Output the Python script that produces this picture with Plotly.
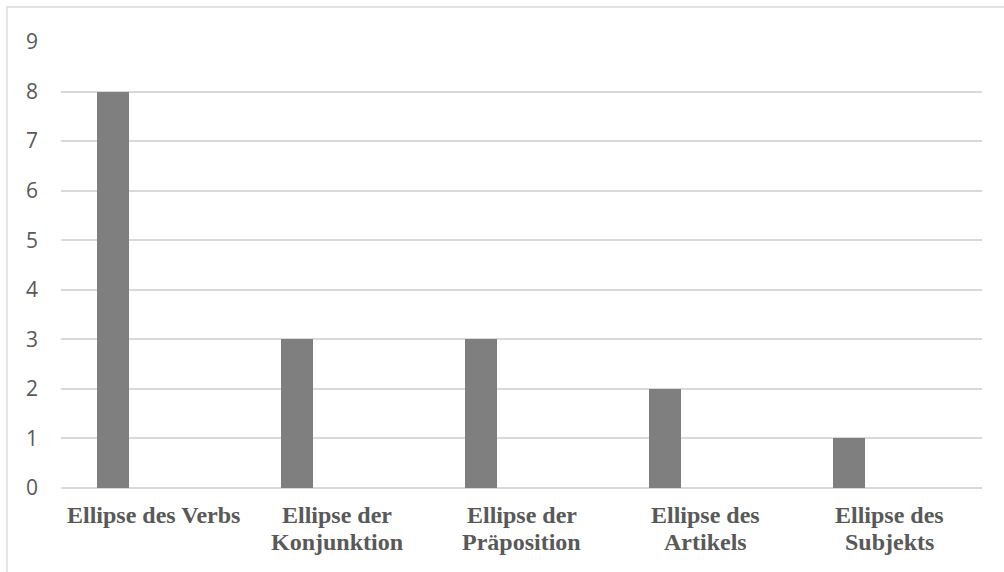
import plotly.graph_objects as go

# Anzahl der Ellipsen je Typ
categories = [
    "Ellipse des Verbs",
    "Ellipse der<br>Konjunktion",
    "Ellipse der<br>Präposition",
    "Ellipse des<br>Artikels",
    "Ellipse des<br>Subjekts",
]
counts = [8, 3, 3, 2, 1]
y_ticks = list(range(0, 10))

W, H = 1004, 572
ML, MR, MT, MB = 61, 22, 42, 84
pw, ph = W - ML - MR, H - MT - MB


def paper_y(px):
    """Convert a pixel row of the page to a paper y coordinate."""
    return (H - MB - px) / ph


fig = go.Figure(
    go.Bar(
        x=categories,
        y=counts,
        width=0.174,
        offset=-0.307,
        marker=dict(color="#7f7f7f", line=dict(width=0)),
        hoverinfo="y",
    )
)

# category labels, one annotation per line for tighter line spacing
label_rows = [515, 542]
for cat in categories:
    for i, line in enumerate(cat.split("<br>")):
        fig.add_annotation(
            x=cat, xref="x",
            y=paper_y(label_rows[i]), yref="paper",
            text="<b>" + line + "</b>",
            showarrow=False,
            xanchor="center", yanchor="middle",
            font=dict(family="Liberation Serif", size=24, color="#595959"),
        )

# outer chart frame
fig.add_shape(
    type="rect",
    xref="paper", yref="paper",
    x0=(7 - ML) / pw, x1=(W + 10 - ML) / pw,
    y0=paper_y(590), y1=paper_y(7),
    line=dict(color="#d9d9d9", width=1.3),
    fillcolor="rgba(0,0,0,0)",
    layer="below",
)

fig.update_layout(
    width=W,
    height=H,
    margin=dict(l=ML, r=MR, t=MT, b=MB, pad=0),
    paper_bgcolor="white",
    plot_bgcolor="white",
    showlegend=False,
    bargap=0,
    xaxis=dict(
        type="category",
        range=[-0.5, 4.5],
        showticklabels=False,
        showgrid=False,
        showline=False,
        zeroline=False,
        ticks="",
    ),
    yaxis=dict(
        range=[0, 9],
        tickvals=y_ticks,
        showgrid=True,
        gridcolor="#d9d9d9",
        gridwidth=1.5,
        zeroline=True,
        zerolinecolor="#d9d9d9",
        zerolinewidth=1.5,
        showline=False,
        ticks="",
        tickfont=dict(family="Open Sans", size=21, color="#595959"),
        ticklabelstandoff=22,
    ),
)

fig.write_html("out.html")
